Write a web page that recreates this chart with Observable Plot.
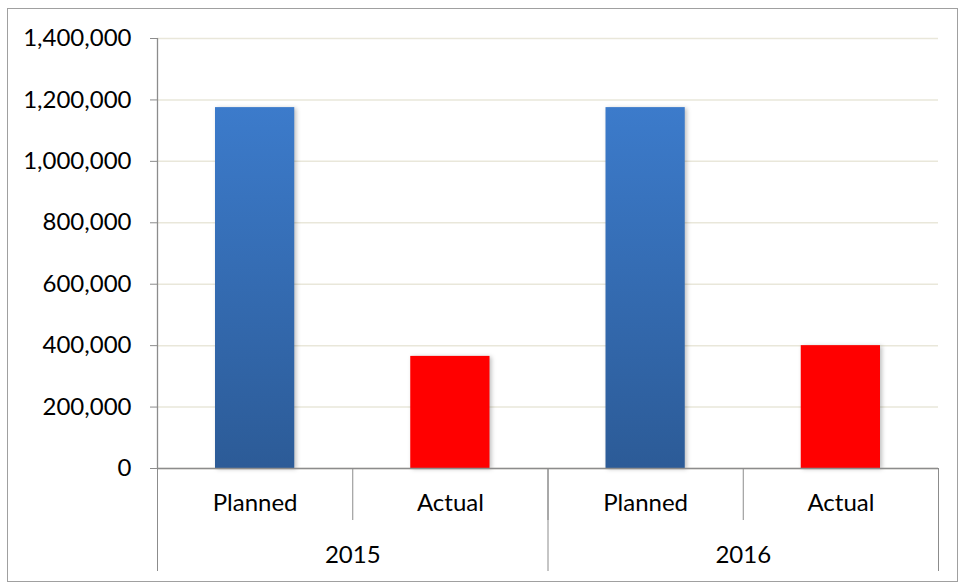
<!DOCTYPE html>
<html>
<head>
<meta charset="utf-8">
<script src="https://cdn.jsdelivr.net/npm/d3@7"></script>
<script src="https://cdn.jsdelivr.net/npm/@observablehq/plot@0.6"></script>
<style>
  html, body { margin: 0; padding: 0; background: #fff; }
  #wrap { position: relative; width: 961px; height: 584px; overflow: hidden; }
  #frame { position: absolute; left: 7px; top: 8px; width: 949px; height: 572px; border: 1.5px solid #a0a0a0; pointer-events: none; }
  svg g[aria-label="rect"] rect { filter: drop-shadow(2px 1px 2px rgba(0,0,0,0.25)); }
</style>
</head>
<body>
<div id="wrap"><div id="frame"></div></div>
<script>
const years = ["2015", "2015", "2016", "2016"];
const types = ["Planned", "Actual", "Planned", "Actual"];
const values = [1175000, 365000, 1175000, 400000];
const yTicks = [0, 200000, 400000, 600000, 800000, 1000000, 1200000, 1400000];
const colors = {Planned: "url(#gradPlanned)", Actual: "#ff0000"};

const rows = values.map((v, i) => ({i, year: years[i], type: types[i], value: v}));
const n = rows.length;

// year groups
const yearGroups = [];
rows.forEach((d, i) => {
  if (i === 0 || years[i] !== years[i - 1]) yearGroups.push({year: d.year, start: i, end: i + 1});
  else yearGroups[yearGroups.length - 1].end = i + 1;
});
const yearBounds = [...yearGroups.map(g => g.start), n];
const yearCenters = yearGroups.map(g => (g.start + g.end) / 2);

const axisGray = "#8c8c8c";

const chart = Plot.plot({
  width: 961,
  height: 584,
  marginLeft: 157,
  marginRight: 23,
  marginTop: 38,
  marginBottom: 116,
  style: {fontFamily: "Lato, 'Open Sans', sans-serif", fontSize: "24px", color: "black", background: "transparent"},
  x: {type: "linear", domain: [0, n], label: null},
  y: {domain: [0, 1400000], label: null},
  marks: [
    Plot.gridY(yTicks, {stroke: "#e9e7da", strokeOpacity: 1, strokeWidth: 1.5}),
    Plot.rectY(rows, {
      x1: d => d.i, x2: d => d.i + 1, y: "value",
      insetLeft: 58, insetRight: 58,
      fill: d => colors[d.type]
    }),
    Plot.ruleX([0], {stroke: axisGray, strokeWidth: 1.3}),
    Plot.ruleY([0], {stroke: axisGray, strokeWidth: 1.3}),
    Plot.axisY({ticks: yTicks, tickSize: 7, tickPadding: 19, tickFormat: d3.format(","), stroke: axisGray, fill: "black", label: null}),
    Plot.axisX({ticks: d3.range(n + 1), tickSize: 52, tickFormat: () => "", stroke: axisGray, label: null}),
    Plot.axisX({ticks: yearBounds, tickSize: 103, tickFormat: () => "", stroke: axisGray, label: null}),
    Plot.axisX({ticks: rows.map(d => d.i + 0.5), tickSize: 0, tickPadding: 25, tickFormat: t => types[Math.floor(t)], fill: "black", label: null}),
    Plot.axisX({ticks: yearCenters, tickSize: 0, tickPadding: 77, tickFormat: t => yearGroups[yearCenters.indexOf(t)].year, fill: "black", label: null})
  ]
});

// gradient definition for the planned bars
const defs = d3.select(chart).insert("defs", ":first-child");
const grad = defs.append("linearGradient").attr("id", "gradPlanned")
  .attr("x1", 0).attr("y1", 0).attr("x2", 0).attr("y2", 1);
grad.append("stop").attr("offset", "0%").attr("stop-color", "#3c7bcb");
grad.append("stop").attr("offset", "100%").attr("stop-color", "#2c5b97");

document.getElementById("wrap").insertBefore(chart, document.getElementById("frame"));
</script>
</body>
</html>
